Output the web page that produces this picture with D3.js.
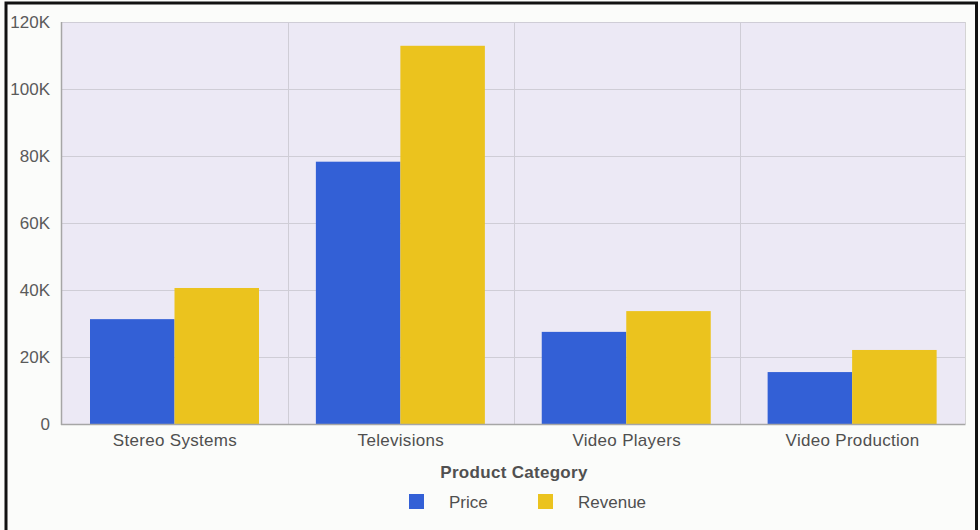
<!doctype html>
<html lang="en">
  <head>
    <meta charset="utf-8">
    <title>Product Category</title>
    <script src="https://d3js.org/d3.v7.min.js"></script>
    <style>
      body { margin: 0; background: #fff; }
      svg { display: block; font-family: "Liberation Sans", Arial, sans-serif; }
    </style>
  </head>

  <body>
    <svg width="980" height="530"></svg>

    <script>
      var categories = ['Stereo Systems', 'Televisions', 'Video Players', 'Video Production'];
      var seriesNames = ['Price', 'Revenue'];
      var price = [31300, 78300, 27500, 15500];
      var revenue = [40600, 112900, 33700, 22100];
      var yTicks = [0, 20000, 40000, 60000, 80000, 100000, 120000];
      var colors = ['#3360d6', '#ebc31e'];

      var svg = d3.select('svg');

      // outer frame
      svg.append('rect')
        .attr('x', 0).attr('y', 0).attr('width', 980).attr('height', 530)
        .style('fill', '#fbfcfa');
      svg.append('path')
        .attr('d', 'M 6 530 L 6 3 L 976.5 3 L 976.5 530')
        .style('fill', 'none').style('stroke', '#111').style('stroke-width', 3);

      var pLeft = 62, pTop = 22, pRight = 965.5, pBottom = 424;

      var x = d3.scaleBand().domain(categories).range([pLeft, pRight]);
      var inner = d3.scaleBand().domain(seriesNames)
        .range([28, 28 + 169]);
      var y = d3.scaleLinear().domain([0, 120000]).range([pBottom, pTop]);

      svg.append('rect')
        .attr('x', pLeft).attr('y', pTop)
        .attr('width', pRight - pLeft).attr('height', pBottom - pTop)
        .style('fill', '#ece9f5');

      // horizontal grid
      svg.append('g').selectAll('line')
        .data(yTicks.slice(1))
        .join('line')
        .attr('x1', pLeft).attr('x2', pRight)
        .attr('y1', function(d){ return Math.round(y(d)) + 0.5; })
        .attr('y2', function(d){ return Math.round(y(d)) + 0.5; })
        .style('stroke', '#cfcdd6').style('stroke-width', 1);

      // vertical grid at category boundaries
      svg.append('g').selectAll('line')
        .data(categories.slice(1))
        .join('line')
        .attr('x1', function(d){ return Math.round(x(d)) + 0.5; })
        .attr('x2', function(d){ return Math.round(x(d)) + 0.5; })
        .attr('y1', pTop).attr('y2', pBottom)
        .style('stroke', '#cfcdd6');

      svg.append('line')
        .attr('x1', pRight).attr('x2', pRight).attr('y1', pTop).attr('y2', pBottom)
        .style('stroke', '#d4d4d4');

      var rows = categories.map(function(c, i){
        return [{ cat: c, s: 'Price', v: price[i], k: 0 }, { cat: c, s: 'Revenue', v: revenue[i], k: 1 }];
      });

      svg.append('g').selectAll('g')
        .data(rows)
        .join('g')
        .attr('transform', function(d){ return 'translate(' + x(d[0].cat) + ',0)'; })
        .selectAll('rect')
        .data(function(d){ return d; })
        .join('rect')
        .attr('x', function(d){ return inner(d.s); })
        .attr('width', inner.bandwidth())
        .attr('y', function(d){ return y(d.v); })
        .attr('height', function(d){ return pBottom - y(d.v); })
        .style('fill', function(d){ return colors[d.k]; });

      // axes lines
      svg.append('line')
        .attr('x1', pLeft - 0.5).attr('x2', pLeft - 0.5).attr('y1', pTop).attr('y2', pBottom + 1)
        .style('stroke', '#a6a6a6').style('stroke-width', 1.5);
      svg.append('line')
        .attr('x1', pLeft - 1).attr('x2', pRight).attr('y1', pBottom + 0.5).attr('y2', pBottom + 0.5)
        .style('stroke', '#a6a6a6').style('stroke-width', 1.5);

      var yAxis = d3.axisLeft(y).tickValues(yTicks).tickSize(0).tickPadding(12)
        .tickFormat(function(d){ return d === 0 ? '0' : (d / 1000) + 'K'; });
      var ya = svg.append('g').attr('transform', 'translate(' + pLeft + ',0)').call(yAxis);
      ya.select('.domain').remove();
      ya.selectAll('text').style('font-size', '17px').style('fill', '#5a5a5a')
        .style('font-family', '"Liberation Sans", Arial, sans-serif');

      var xAxis = d3.axisBottom(x).tickSize(0).tickPadding(10);
      var xa = svg.append('g').attr('transform', 'translate(0,' + pBottom + ')').call(xAxis);
      xa.select('.domain').remove();
      xa.selectAll('text').style('font-size', '17px').style('fill', '#4f4f4f')
        .style('letter-spacing', '0.3px')
        .style('font-family', '"Liberation Sans", Arial, sans-serif');

      svg.append('text')
        .attr('x', 514).attr('y', 477.5)
        .attr('text-anchor', 'middle')
        .style('font-size', '17px').style('font-weight', 'bold').style('fill', '#505050')
        .style('letter-spacing', '0.3px')
        .text('Product Category');

      var legend = svg.append('g').selectAll('g')
        .data(seriesNames)
        .join('g')
        .attr('transform', function(d, i){ return 'translate(' + (409 + i * 129) + ',494)'; });
      legend.append('rect')
        .attr('width', 15).attr('height', 15)
        .style('fill', function(d, i){ return colors[i]; });
      legend.append('text')
        .attr('x', 40).attr('y', 14)
        .style('font-size', '17px').style('fill', '#4f4f4f')
        .text(function(d){ return d; });
    </script>
  </body>
</html>
